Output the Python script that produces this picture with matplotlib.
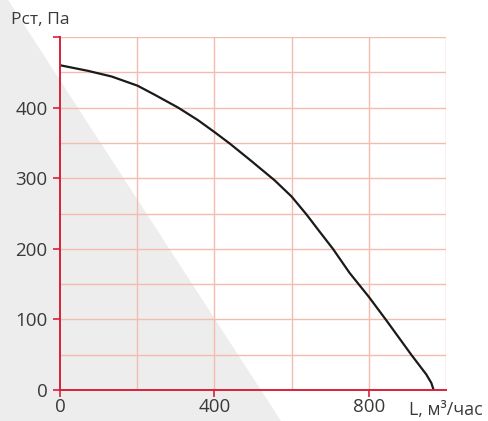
import matplotlib.pyplot as plt
from matplotlib.patches import Polygon

# ---- data --------------------------------------------------------------------
flow = [0, 73, 134, 201, 246, 306, 358, 401, 440, 492, 556, 600,
        638, 673, 707, 750, 800, 845, 910, 949, 962, 968]
pressure = [460, 452, 444, 431, 418, 400, 382, 365, 349, 326, 297, 274,
            249, 224, 200, 166, 132, 99, 50, 22, 10, 0]
x_ticks = [0, 400, 800]
y_ticks = [0, 100, 200, 300, 400, 500]
y_labels = ["0", "100", "200", "300", "400", ""]
x_grid = [200, 400, 600, 800, 1000]
y_grid = [50, 100, 150, 200, 250, 300, 350, 400, 450, 500]

RED = "#d9203a"
GRID = "#f4bcae"
TXT = "#3a3a3a"

plt.rcParams["font.family"] = ["Open Sans", "DejaVu Sans"]

fig = plt.figure(figsize=(4.89, 4.21), dpi=100)
W, H = 489, 421
# grey diagonal wedge in the background
tri = Polygon([(0, 1), (8 / W, 1), (281 / W, 0), (0, 0)], closed=True,
              transform=fig.transFigure, facecolor="#ededed", edgecolor="none",
              zorder=-5)
fig.patches.append(tri)

ax = fig.add_axes([60 / W, 1 - 390 / H, (446 - 60) / W, (390 - 37) / H])
ax.set_zorder(1)
ax.patch.set_alpha(0)
ax.set_xlim(0, 1000)
ax.set_ylim(0, 500)

for gx in x_grid:
    ax.axvline(gx, color=GRID, lw=1.0, zorder=1)
for gy in y_grid:
    ax.axhline(gy, color=GRID, lw=1.0, zorder=1)

ax.plot(flow, pressure, color="#1a1a1a", lw=1.6, zorder=3,
        solid_capstyle="round", solid_joinstyle="round")

for side in ["top", "right"]:
    ax.spines[side].set_visible(False)
for side in ["left", "bottom"]:
    ax.spines[side].set_color(RED)
    ax.spines[side].set_linewidth(1.4)
    ax.spines[side].set_zorder(4)

ax.set_xticks(x_ticks)
ax.set_yticks(y_ticks)
ax.set_yticklabels(y_labels)
ax.tick_params(colors=RED, labelcolor=TXT, labelsize=13.5, length=5, width=1.2)
ax.tick_params(axis="x", pad=1)
ax.tick_params(axis="y", pad=4)

fig.text(11 / W, 1 - 20 / H, "Рст, Па", fontsize=12.5, color=TXT, va="center")
fig.text(409 / W, 1 - 410 / H, "L, м³/час", fontsize=12.8, color=TXT, va="center")

fig.savefig("out.png", dpi=100)
